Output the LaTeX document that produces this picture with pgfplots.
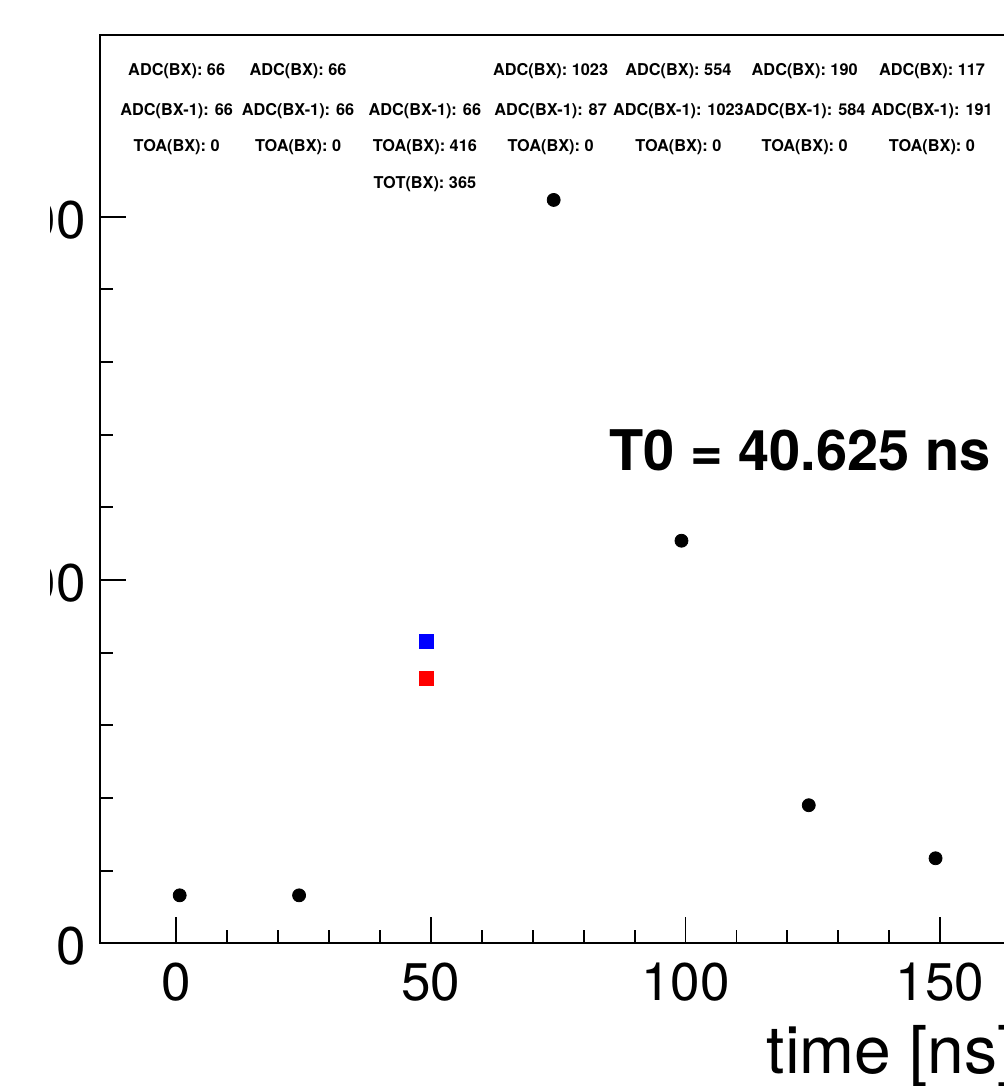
\documentclass[border=0pt]{standalone}
\usepackage{fontspec}
\setmainfont{TeX Gyre Heros}
\usepackage{pgfplots}
\pgfplotsset{compat=1.18}

\begin{document}
\begin{tikzpicture}
\useasboundingbox (0,0) rectangle (502pt,543pt);
\clip (25pt,0) rectangle (502pt,543pt);
\begin{axis}[
  scale only axis,
  width=458.25pt, height=454.15pt,
  at={(50pt,71.35pt)}, anchor=south west,
  xmin=-15, xmax=165, ymin=0, ymax=1250,
  xtick={0,50,100,150}, ytick={0,500,1000},
  minor x tick num=4, minor y tick num=4,
  tick align=inside, xtick pos=bottom, ytick pos=left,
  major tick length=13pt, minor tick length=6.5pt,
  axis line style={line width=1pt},
  every tick/.style={black, line width=0.9pt},
  /pgf/number format/assume math mode=true,
  /pgf/number format/1000 sep={},
  tick label style={font=\fontsize{26.5}{30}\selectfont},
  xticklabel style={inner sep=0pt, anchor=north, yshift=-9.5pt},
  yticklabel style={inner sep=0pt, anchor=east, xshift=-7pt, yshift=-1.5pt},
  xlabel={time [ns]},
  xlabel style={at={(rel axis cs:1,0)}, anchor=base east, yshift=-64.85pt,
    inner sep=0pt, font=\fontsize{33}{37}\selectfont},
  clip=false,
]
% samples (BX)
\addplot[only marks, mark=*, mark size=3.25pt, black] coordinates {
  (0.65,66) (24.1,66) (74.1,1023) (99.2,554) (124.2,190) (149.1,117)
};
% TOA and TOT of the third sample
\addplot[only marks, mark=square*, mark size=3.5pt, blue] coordinates {(49.2,416)};
\addplot[only marks, mark=square*, mark size=3.5pt, red] coordinates {(49.2,365)};

\tikzset{lbl/.style={anchor=base, inner sep=0pt, font=\fontsize{8.15}{10}\bfseries\selectfont}}
% row 1
\node[lbl] at (axis cs:0.06,1193.9) {ADC(BX): 66};
\node[lbl] at (axis cs:23.9,1193.9) {ADC(BX): 66};
\node[lbl] at (axis cs:73.5,1193.9) {ADC(BX): 1023};
\node[lbl] at (axis cs:98.6,1193.9) {ADC(BX): 554};
\node[lbl] at (axis cs:123.4,1193.9) {ADC(BX): 190};
\node[lbl] at (axis cs:148.4,1193.9) {ADC(BX): 117};
% row 2
\node[lbl] at (axis cs:0.06,1139.1) {ADC(BX-1): 66};
\node[lbl] at (axis cs:23.9,1139.1) {ADC(BX-1): 66};
\node[lbl] at (axis cs:48.8,1139.1) {ADC(BX-1): 66};
\node[lbl] at (axis cs:73.5,1139.1) {ADC(BX-1): 87};
\node[lbl] at (axis cs:98.6,1139.1) {ADC(BX-1): 1023};
\node[lbl] at (axis cs:123.4,1139.1) {ADC(BX-1): 584};
\node[lbl] at (axis cs:148.4,1139.1) {ADC(BX-1): 191};
% row 3
\node[lbl] at (axis cs:0.06,1090.3) {TOA(BX): 0};
\node[lbl] at (axis cs:23.9,1090.3) {TOA(BX): 0};
\node[lbl] at (axis cs:48.8,1090.3) {TOA(BX): 416};
\node[lbl] at (axis cs:73.5,1090.3) {TOA(BX): 0};
\node[lbl] at (axis cs:98.6,1090.3) {TOA(BX): 0};
\node[lbl] at (axis cs:123.4,1090.3) {TOA(BX): 0};
\node[lbl] at (axis cs:148.4,1090.3) {TOA(BX): 0};
% row 4
\node[lbl] at (axis cs:48.8,1038.9) {TOT(BX): 365};

\node[anchor=base, inner sep=0pt, font=\fontsize{28}{32}\bfseries\selectfont]
  at (axis cs:122.5,650) {T0 = 40.625 ns};
\end{axis}
\end{tikzpicture}
\end{document}
